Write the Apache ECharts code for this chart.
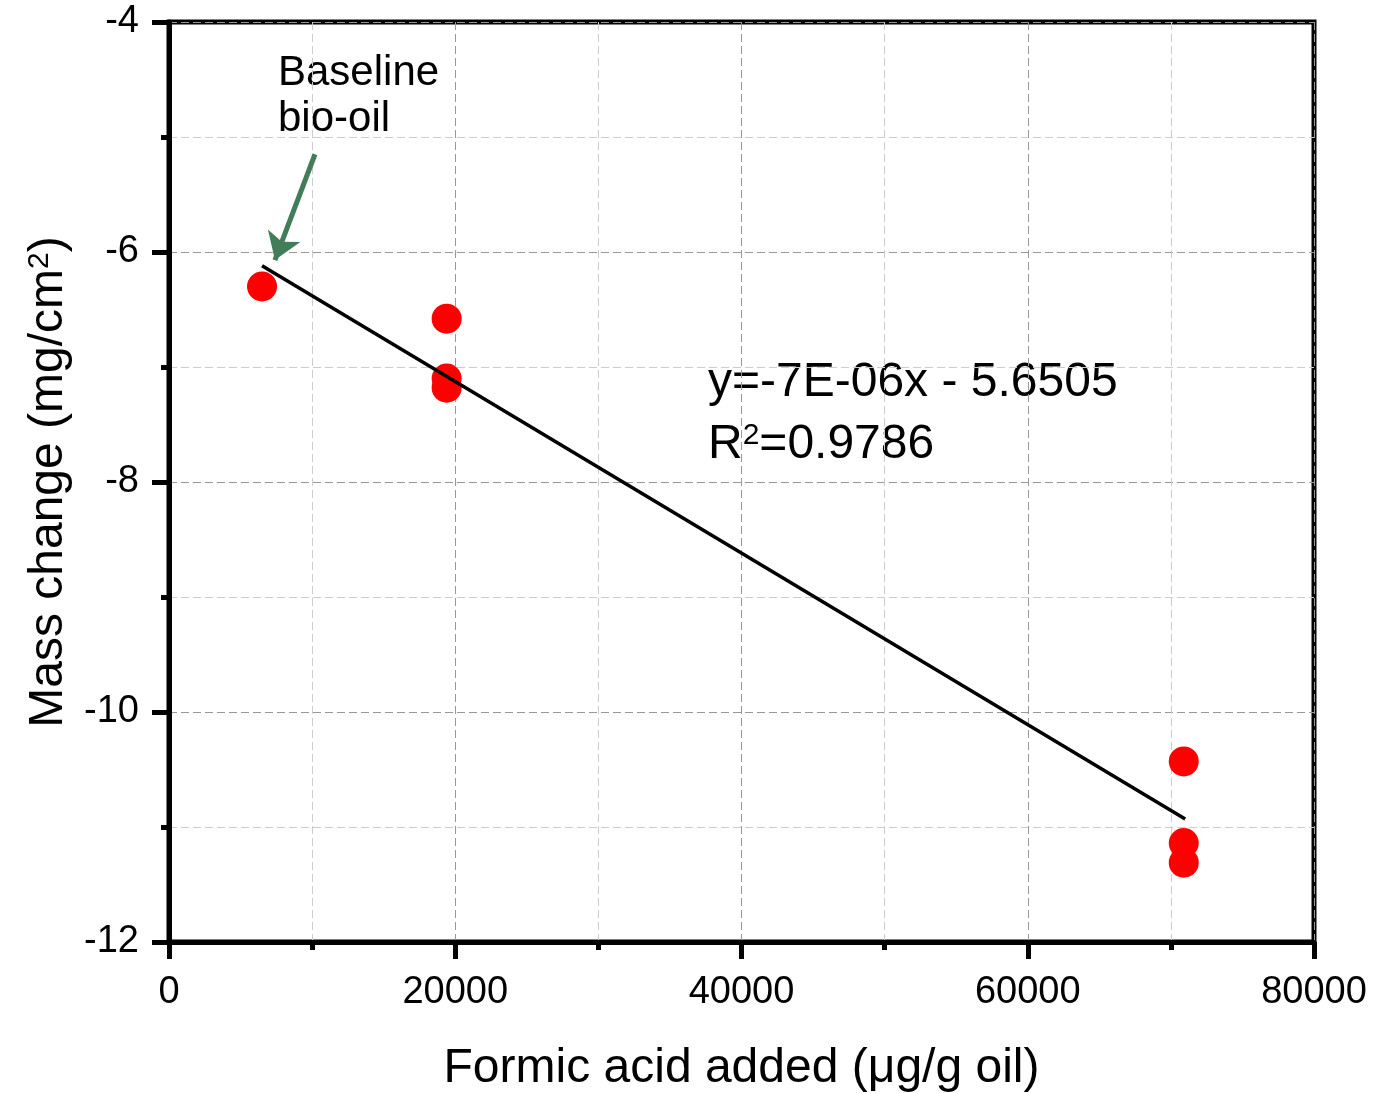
<!DOCTYPE html>
<html>
<head>
<meta charset="utf-8">
<script src="https://cdn.jsdelivr.net/npm/echarts@6/dist/echarts.min.js"></script>
<style>html,body{margin:0;padding:0;background:#fff}#c{width:1395px;height:1093px}</style>
</head>
<body>
<div id="c"></div>
<script>
// Data
const formicAcid = [6500, 19400, 19400, 19400, 70900, 70900, 70900];
const massChange = [-6.30, -6.58, -7.10, -7.18, -10.43, -11.14, -11.31];
const trendX = [6500, 71000];
const trendY = [-6.12, -10.93];
const arrowFrom = [10200, -5.15];
const arrowTo = [7400, -6.07];
const xTicks = [0, 20000, 40000, 60000, 80000];
const yTicks = [-12, -10, -8, -6, -4];
const equationText = 'y=-7E-06x - 5.6505';
const r2Text = '0.9786';
const annotationText = ['Baseline', 'bio-oil'];

const FONT = '"Liberation Sans", Arial, sans-serif';
const chart = echarts.init(document.getElementById('c'), null, {renderer: 'canvas'});

const points = formicAcid.map((x, i) => [x, massChange[i]]);
const trend = trendX.map((x, i) => [x, trendY[i]]);

chart.setOption({
  animation: false,
  backgroundColor: '#fff',
  grid: {left: 169, right: 81, top: 22, bottom: 151, containLabel: false, outerBoundsMode: 'none',
    show: true, borderColor: '#000', borderWidth: 5, backgroundColor: 'transparent'},
  xAxis: {
    type: 'value', min: xTicks[0], max: xTicks[xTicks.length - 1], interval: 20000,
    name: 'Formic acid added (μg/g oil)', nameLocation: 'middle', nameGap: 103,
    nameTextStyle: {fontFamily: FONT, fontSize: 48, color: '#000'},
    axisLine: {show: true, onZero: false, lineStyle: {color: '#000', width: 5}},
    axisTick: {show: true, inside: false, length: 17, lineStyle: {color: '#000', width: 5}},
    minorTick: {show: true, splitNumber: 2, length: 8, lineStyle: {color: '#000', width: 5}},
    axisLabel: {fontFamily: FONT, fontSize: 38, color: '#000', margin: 32, formatter: v => String(v)},
    splitLine: {show: true, lineStyle: {color: '#999', width: 1, type: [8, 4]}},
    minorSplitLine: {show: true, lineStyle: {color: '#ccc', width: 1, type: [8, 4]}}
  },
  yAxis: {
    type: 'value', min: yTicks[0], max: yTicks[yTicks.length - 1], interval: 2,
    name: '{a|Mass change (mg/cm}{s|2}{a|)}', nameLocation: 'middle', nameGap: 96,
    nameTextStyle: {fontFamily: FONT, fontSize: 48, color: '#000',
      rich: {a: {fontFamily: FONT, fontSize: 48, color: '#000'}, s: {fontFamily: FONT, fontSize: 30, color: '#000', verticalAlign: 'top'}}},
    axisLine: {show: true, onZero: false, lineStyle: {color: '#000', width: 5}},
    axisTick: {show: true, inside: false, length: 17, lineStyle: {color: '#000', width: 5}},
    minorTick: {show: true, splitNumber: 2, length: 8, lineStyle: {color: '#000', width: 5}},
    axisLabel: {fontFamily: FONT, fontSize: 38, color: '#000', margin: 30},
    splitLine: {show: true, lineStyle: {color: '#999', width: 1, type: [8, 4]}},
    minorSplitLine: {show: true, lineStyle: {color: '#ccc', width: 1, type: [8, 4]}}
  },
  series: [
    {
      type: 'line', data: trend, symbol: 'none', z: 3,
      lineStyle: {color: '#000', width: 3.5},
      markLine: {
        silent: true, symbol: ['none', 'arrow'], symbolSize: 26,
        label: {show: false},
        lineStyle: {color: '#417d59', width: 5, type: 'solid'},
        data: [[{coord: arrowFrom}, {coord: arrowTo}]]
      }
    },
    {
      type: 'scatter', data: points, symbol: 'circle', symbolSize: 30, z: 2,
      itemStyle: {color: '#ff0000', opacity: 1}
    }
  ],
  graphic: [
    {type: 'text', left: 278, top: 50, style: {text: annotationText.join('\n'), font: '42px ' + FONT, fill: '#000', lineHeight: 46}},
    {type: 'text', left: 708, top: 359, style: {text: equationText, font: '48px ' + FONT, fill: '#000'}},
    {type: 'text', left: 708, top: 421, style: {
      text: '{a|R}{s|2}{a|=' + r2Text + '}',
      rich: {a: {font: '48px ' + FONT, fill: '#000'}, s: {font: '30px ' + FONT, fill: '#000', verticalAlign: 'top'}}
    }}
  ]
});
</script>
</body>
</html>
